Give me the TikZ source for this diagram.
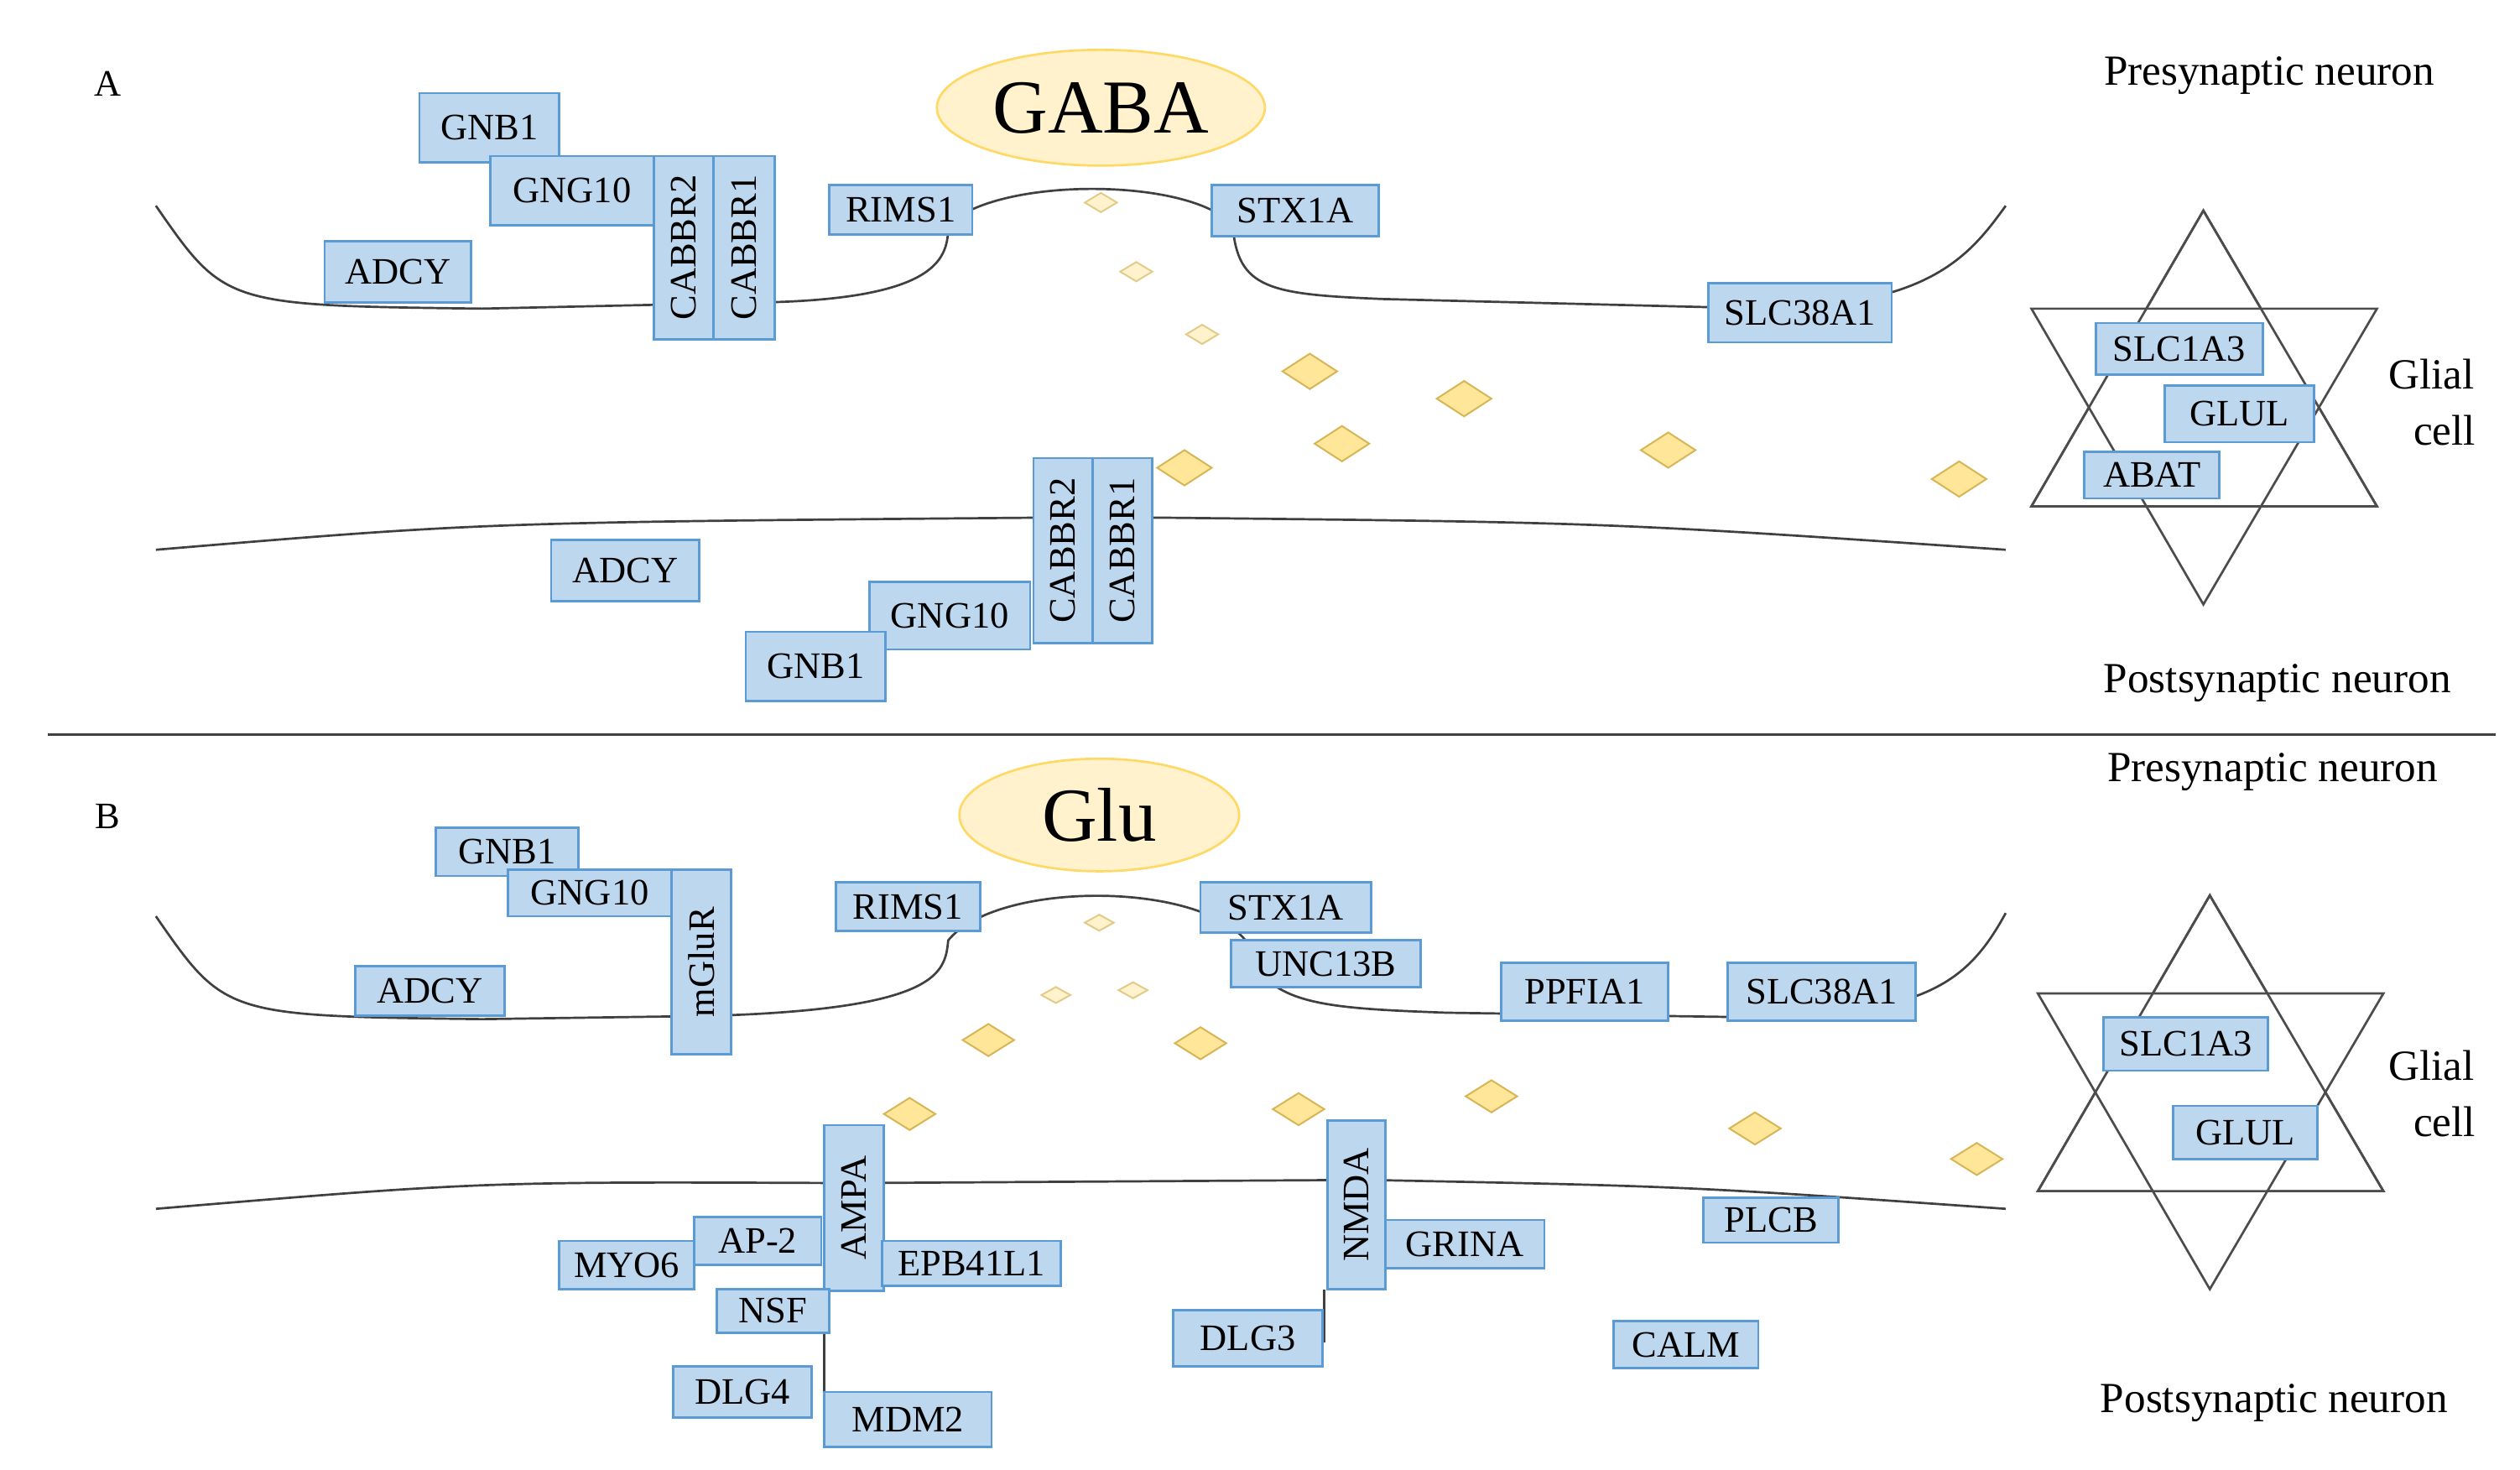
\documentclass[tikz,border=0pt]{standalone}
\usepackage{fontspec}
\setmainfont{Liberation Serif}
\usetikzlibrary{fit,shapes.geometric}
\definecolor{protfill}{HTML}{BDD7EE}
\definecolor{protline}{HTML}{5B9BD5}
\definecolor{gabafill}{HTML}{FFF2CC}
\definecolor{gabaline}{HTML}{FFD966}
\definecolor{diafill}{HTML}{FFE699}
\definecolor{dialine}{HTML}{D6B656}
\tikzset{
  prot/.style={draw=protline, fill=protfill, inner sep=0pt, font=\fontsize{6.6}{7}\selectfont},
  membrane/.style={draw=black!75, line width=0.4pt},
  side/.style={font=\fontsize{7.6}{8}\selectfont},
  dia/.style={draw=dialine, fill=diafill, line width=0.3pt},
  smalldia/.style={draw=dialine!70, fill=gabafill, line width=0.3pt},
  star/.style={draw=black!70, line width=0.4pt}
}
% gene box: [label options]{name}{x1}{y1}{x2}{y2}{text}
\newcommand\gene[7][]{\node[prot, fit={(#3,#4) (#5,#6)}, label={[#1, font=\fontsize{6.6}{7}\selectfont]center:#7}] (#2) {};}
\begin{document}
\begin{tikzpicture}[x=0.01cm, y=-0.01cm]
\useasboundingbox (0,0) rectangle (1568,914);

%% panel A
\node at (67,52) {\fontsize{6.6}{7}\selectfont A};
\node[draw=gabaline, fill=gabafill, ellipse, minimum width=2.04cm, minimum height=0.72cm, inner sep=0pt] (gaba) at (685,67) {\fontsize{13.5}{14}\selectfont GABA};
\node[side] (preA) at (1412,47) {Presynaptic neuron};
\node[side] (postA) at (1417,425) {Postsynaptic neuron};

\path[membrane] (97,128) .. controls (140,190) .. (300,192) -- (480,188)
  .. controls (585,185) and (590,160) .. (590,140)
  .. controls (620,110) and (740,110) .. (767,140)
  .. controls (770,180) and (790,183) .. (860,186) -- (1100,192)
  .. controls (1200,190) and (1225,160) .. (1248,128);
\path[membrane] (97,342) .. controls (300,325) .. (650,322) -- (720,322) .. controls (1000,325) .. (1248,342);

\foreach \x/\y in {685/126, 707/169, 748/208}
  \draw[smalldia] (\x,\y) +(-10,0) -- +(0,-6) -- +(10,0) -- +(0,6) -- cycle;
\foreach \x/\y in {815/231, 911/248, 835/276, 1038/280, 737/291, 1219/298}
  \draw[dia] (\x,\y) +(-17,0) -- +(0,-11) -- +(17,0) -- +(0,11) -- cycle;

\gene{gnbA}{261}{58}{348}{101}{GNB1}
\gene{gngA}{305}{97}{407}{140}{GNG10}
\gene{adcyA}{202}{150}{293}{188}{ADCY}
\gene[rotate=90]{cabbrTwoA}{407}{97}{444}{211}{CABBR2}
\gene[rotate=90]{cabbrOneA}{444}{97}{482}{211}{CABBR1}
\gene{rimsA}{516}{115}{605}{146}{RIMS1}
\gene{stxA}{754}{115}{858}{147}{STX1A}
\gene{slcA}{1063}{176}{1177}{213}{SLC38A1}
\gene{adcyAp}{343}{336}{435}{374}{ADCY}
\gene{gngAp}{541}{362}{641}{404}{GNG10}
\gene{gnbAp}{464}{393}{551}{436}{GNB1}
\gene[rotate=90]{cabbrTwoAp}{643}{285}{680}{400}{CABBR2}
\gene[rotate=90]{cabbrOneAp}{680}{285}{717}{400}{CABBR1}

\draw[star] (1371,131) -- (1479,315) -- (1264,315) -- cycle;
\draw[star, fill=white] (1371,376) -- (1264,192) -- (1479,192) -- cycle;
\path[star] (1371,131) -- (1479,315) -- (1264,315) -- cycle;
\gene{slcoA}{1304}{201}{1408}{233}{SLC1A3}
\gene{glulA}{1347}{240}{1440}{275}{GLUL}
\gene{abatA}{1297}{281}{1381}{310}{ABAT}
\node[side] (glialA) at (1513,233) {Glial};
\node[side] (cellA) at (1521,268) {cell};

\draw[black!75] (30,457) -- (1553,457);

%% panel B
\node at (67,508) {\fontsize{6.6}{7}\selectfont B};
\node[draw=gabaline, fill=gabafill, ellipse, minimum width=1.74cm, minimum height=0.7cm, inner sep=0pt] (glu) at (684,507) {\fontsize{13.5}{14}\selectfont Glu};
\node[side] (preB) at (1414,480) {Presynaptic neuron};
\node[side] (postB) at (1415,873) {Postsynaptic neuron};

\path[membrane] (97,570) .. controls (140,632) .. (300,634) -- (440,632)
  .. controls (585,628) and (588,605) .. (590,585)
  .. controls (620,548) and (745,548) .. (775,585)
  .. controls (785,625) and (820,627) .. (900,630) -- (1100,633)
  .. controls (1200,630) and (1225,610) .. (1248,568);
\path[membrane] (97,752) .. controls (300,735) .. (530,736) -- (850,734) .. controls (1050,738) .. (1248,752);
\draw[black!75] (513,803) -- (513,895);
\draw[black!75] (824,802) -- (824,835);

\foreach \x/\y in {684/574, 657/619, 705/616}
  \draw[smalldia] (\x,\y) +(-9,0) -- +(0,-5) -- +(9,0) -- +(0,5) -- cycle;
\foreach \x/\y in {615/647, 747/649, 566/693, 808/690, 928/682, 1092/702, 1230/721}
  \draw[dia] (\x,\y) +(-16,0) -- +(0,-10) -- +(16,0) -- +(0,10) -- cycle;

\gene{gnbB}{271}{515}{360}{545}{GNB1}
\gene{gngB}{316}{541}{418}{570}{GNG10}
\gene[rotate=90]{mglur}{418}{541}{455}{656}{mGluR}
\gene{adcyB}{221}{601}{314}{632}{ADCY}
\gene{rimsB}{520}{549}{610}{579}{RIMS1}
\gene{stxB}{747}{549}{853}{580}{STX1A}
\gene{unc}{766}{585}{884}{614}{UNC13B}
\gene{ppfia}{934}{599}{1038}{635}{PPFIA1}
\gene{slcB}{1075}{599}{1192}{635}{SLC38A1}
\gene[rotate=90]{ampa}{513}{700}{550}{803}{AMPA}
\gene[rotate=90]{nmda}{826}{697}{862}{802}{NMDA}
\gene{aptwo}{432}{757}{511}{787}{AP-2}
\gene{myo}{348}{772}{432}{802}{MYO6}
\gene{epb}{549}{772}{660}{800}{EPB41L1}
\gene{nsf}{446}{802}{516}{829}{NSF}
\gene{dlgfour}{419}{850}{505}{882}{DLG4}
\gene{mdm}{513}{866}{617}{900}{MDM2}
\gene{dlgthree}{730}{815}{823}{850}{DLG3}
\gene{grina}{862}{759}{961}{789}{GRINA}
\gene{plcb}{1060}{745}{1144}{773}{PLCB}
\gene{calm}{1004}{822}{1094}{851}{CALM}

\draw[star] (1375,557) -- (1483,741) -- (1268,741) -- cycle;
\draw[star, fill=white] (1375,802) -- (1268,618) -- (1483,618) -- cycle;
\path[star] (1375,557) -- (1483,741) -- (1268,741) -- cycle;
\gene{slcoB}{1309}{633}{1411}{666}{SLC1A3}
\gene{glulB}{1352}{688}{1442}{721}{GLUL}
\node[side] (glialB) at (1513,663) {Glial};
\node[side] (cellB) at (1521,698) {cell};
\end{tikzpicture}
\end{document}
